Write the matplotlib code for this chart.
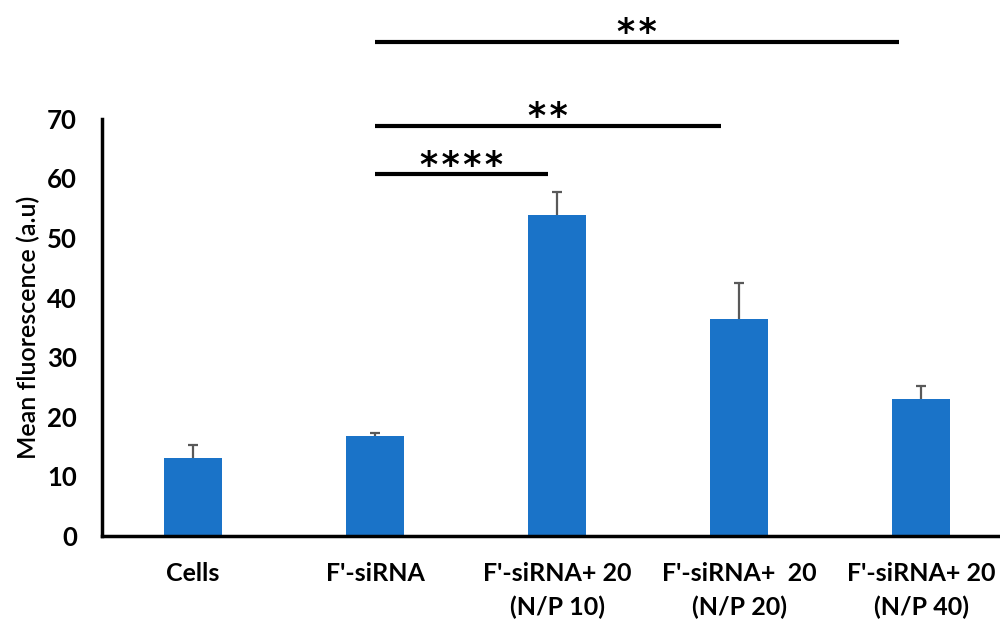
import matplotlib
matplotlib.use("Agg")
import matplotlib.pyplot as plt
import numpy as np

plt.rcParams['font.family'] = ['Lato', 'DejaVu Sans']

categories = ["Cells", "F'-siRNA", "F'-siRNA+ 20\n(N/P 10)", "F'-siRNA+  20\n(N/P 20)", "F'-siRNA+ 20\n(N/P 40)"]
means = [13.1, 16.7, 53.9, 36.4, 23.0]
errors = [2.2, 0.6, 3.8, 6.0, 2.2]
yticks = [0, 10, 20, 30, 40, 50, 60, 70]

# significance brackets: (x start, x end, y, label)
sig_x0 = [1.0, 1.0, 1.0]
sig_x1 = [1.95, 2.9, 3.88]
sig_y = [60.7, 68.8, 82.9]
sig_labels = ["****", "**", "**"]

fig = plt.figure(figsize=(10, 6.21), dpi=100)
ax = fig.add_axes([0.102, 0.137, 0.898, 0.6715])

x = np.arange(len(categories))
ax.bar(x, means, width=0.32, color="#1A73C8", zorder=2)
eb = ax.errorbar(x, means, yerr=[np.zeros(len(errors)), errors], fmt='none',
                 ecolor="#595959", elinewidth=1.6, capsize=3.8, capthick=1.6, zorder=3)
# hide the lower caps (one-sided error bars)
eb[1][0].set_visible(False)

ax.set_xlim(-0.5, 4.434)
ax.set_ylim(0, 70)
ax.set_yticks(yticks)
ax.set_yticklabels([str(t) for t in yticks], fontsize=18.5, fontweight='bold')
ax.set_xticks(x)
ax.set_xticklabels(categories, fontsize=18, fontweight='bold', linespacing=1.55)
ax.tick_params(axis='both', length=0)
ax.tick_params(axis='y', pad=18)
ax.tick_params(axis='x', pad=19)

for s in ['top', 'right']:
    ax.spines[s].set_visible(False)
ax.spines['left'].set_linewidth(2.5)
ax.spines['bottom'].set_linewidth(2.5)

ax.set_ylabel("Mean fluorescence (a.u)", fontsize=18, fontweight='semibold', labelpad=5)

for x0, x1, y, lab in zip(sig_x0, sig_x1, sig_y, sig_labels):
    ax.plot([x0, x1], [y, y], color='black', lw=3, clip_on=False, solid_capstyle='butt')
    ax.annotate("\u200a".join(lab), xy=((x0 + x1) / 2, y), xytext=(0, -1), textcoords='offset points',
                ha='center', va='baseline', fontsize=25, fontweight='bold',
                family='DejaVu Sans', annotation_clip=False)

fig.savefig("out.png", dpi=100)
